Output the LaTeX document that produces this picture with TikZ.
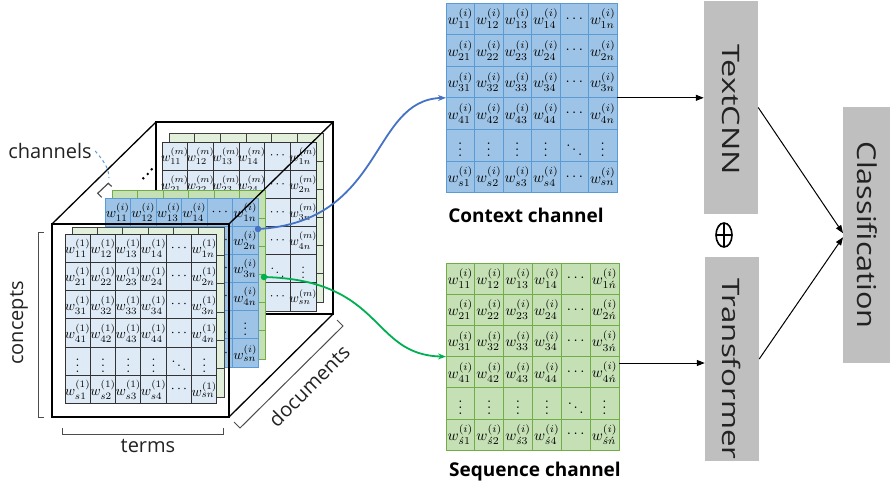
\documentclass[tikz,border=0pt]{standalone}
\usepackage{fontspec}
\usetikzlibrary{arrows.meta,shapes.geometric}
\newfontfamily\labfont{Open Sans}
\definecolor{paleblue}{HTML}{DEEBF7}
\definecolor{palegreen}{HTML}{E2EFDA}
\definecolor{midblue}{HTML}{9DC3E6}
\definecolor{edgeblue}{HTML}{5B9BD5}
\definecolor{lgreen}{HTML}{C5E0B4}
\definecolor{edgegreen}{HTML}{70AD47}
\definecolor{boxgray}{HTML}{BFBFBF}
\definecolor{arrowblue}{HTML}{4472C4}
\definecolor{arrowgreen}{HTML}{00B050}
\definecolor{ink}{HTML}{222222}

% row / column index symbols of a weight matrix
\def\ssym{s}\def\nsym{n}
\newcommand\rowsym[1]{\ifcase#1\or1\or2\or3\or4\or\or\ssym\fi}
\newcommand\colsym[1]{\ifcase#1\or1\or2\or3\or4\or\or\nsym\fi}
\newcommand\wcell[3]{%
  \ifnum#1=5\relax
    \ifnum#2=5\relax$\ddots$\else$\vdots$\fi
  \else
    \ifnum#2=5\relax$\cdots$\else$w_{\rowsym{#1}\colsym{#2}}^{(#3)}$\fi
  \fi}

% 6x6 weight matrix: #1 name, #2,#3 top-left, #4,#5 cell size,
% #6 cell style, #7 label scale, #8 layer index
\newcommand\wmatrix[8]{%
  \foreach \r in {1,...,6}{\foreach \c in {1,...,6}{%
    \draw[#6] ({#2+(\c-1)*#4},{#3+(\r-1)*#5}) rectangle ++(#4,#5);
    \node[celltext] (#1-\r-\c) at ({#2+(\c-0.5)*#4},{#3+(\r-0.5)*#5})
      {\scalebox{#7}{\wcell{\r}{\c}{#8}}};
  }}}

% 6x6 empty grid for the layers stacked behind a matrix
\newcommand\blankgrid[5]{%
  \foreach \r in {0,...,5}{\foreach \c in {0,...,5}{%
    \draw[#5] ({#1+\c*#3},{#2+\r*#4}) rectangle ++(#3,#4);}}}

% rotated, horizontally stretched label of a model box
\newcommand\boxtext[4]{\rotatebox{-90}{\hspace*{#4pt}\labfont\fontsize{#1}{#1}\selectfont\color{ink}\scalebox{#2}[1]{#3}}}

\begin{document}
\begin{tikzpicture}[x=1pt,y=-1pt,
  cubeline/.style={draw=black, line width=1.3pt},
  plaincell/.style={draw=black!80, line width=1pt, fill=paleblue},
  bluecell/.style={draw=edgeblue, line width=0.9pt, fill=midblue},
  greencell/.style={draw=edgegreen, line width=0.9pt, fill=lgreen},
  celltext/.style={inner sep=0pt, font=\fontsize{10}{10}\selectfont, text=black},
  palelayer/.style={draw=black!75, line width=0.9pt, fill=palegreen},
  greenlayer/.style={draw=edgegreen, line width=0.9pt, fill=lgreen},
  graybox/.style={fill=boxgray, draw=none, inner sep=0pt},
  lab/.style={font=\labfont\fontsize{20}{20}\selectfont, text=ink},
  boldlab/.style={font=\labfont\bfseries\fontsize{19}{19}\selectfont, text=black},
  bracketline/.style={draw=black!70, line width=1pt},
  flow/.style={draw=black, line width=1pt, -{Triangle[length=8pt,width=6pt]}},
  dot/.style={circle, inner sep=0pt, minimum size=6.5pt},
]
\useasboundingbox (0,0) rectangle (890,491);

% ---------- cube of documents ----------
\draw[cubeline, fill=white] (156,122) rectangle (333,314);
\blankgrid{169}{133}{25.67}{28.17}{palelayer}
\wmatrix{mm}{162}{142}{25.67}{28.17}{plaincell}{1.3}{m}
\foreach \p in {(143.3,178.3),(147.7,174),(151.7,169.3)}
  \fill[black] \p circle (1.4);
\blankgrid{112}{190}{25.5}{28.17}{greenlayer}
\wmatrix{mi}{105}{198}{25.5}{28.17}{bluecell}{1.4}{i}
\draw[cubeline] (52,224) -- (156,122);
\draw[cubeline] (229,224) -- (333,122);
\draw[cubeline] (229,417) -- (333,314);
\draw[cubeline] (52,224) rectangle (229,417);
\blankgrid{72}{227}{25.33}{28.33}{palelayer}
\wmatrix{m1}{65}{234}{25.33}{28.33}{plaincell}{1.4}{1}

% brackets and axis labels
\draw[bracketline] (44,232) -- (38,232) -- (38,417) -- (44,417);
\node[lab, rotate=90] (concepts) at (19,323) {concepts};
\draw[bracketline] (62,428) -- (62,434) -- (223,434) -- (223,428);
\node[lab] (terms) at (148,446) {terms};
\draw[bracketline] (234,422) -- (240,428) -- (343,326) -- (337,320);
\node[lab, rotate=45] (documents) at (309,386) {documents};
\node[lab] (channels) at (50,151) {channels};
\coordinate (chtip) at (109,178);
\draw[edgeblue, line width=1pt, dashed] (channels.east) .. controls (103,160) and (109,168) .. (chtip);
\draw[bracketline, line width=1.2pt] (101.7,197.3) -- (97.7,193.3) -- (108.3,183.3) -- (111.7,186.5);

% ---------- channel matrices ----------
\wmatrix{ctx}{446}{3}{28.5}{31.6}{bluecell}{1.5}{i}
\node[boldlab] (ctxlab) at (526,215) {Context channel};
\def\ssym{\acute{s}}\def\nsym{\acute{n}}
\wmatrix{seq}{446}{263}{28.83}{31.2}{greencell}{1.5}{i}
\def\ssym{s}\def\nsym{n}
\node[boldlab] (seqlab) at (535,472) {Sequence channel};
\coordinate (ctxin) at (446,97.8);
\coordinate (ctxout) at (617,97.8);
\coordinate (seqin) at (446,356.6);
\coordinate (seqout) at (619,363);

% links from the cube to the channels
\node[dot, fill=arrowblue] (bdot) at (258,229) {};
\node[dot, fill=arrowgreen] (gdot) at (264,277) {};
\draw[arrowblue, line width=1.8pt, -{Stealth[length=8pt,width=6pt]}]
  (bdot.center) .. controls (385,222) and (370,100) .. (ctxin);
\draw[arrowgreen, line width=1.8pt, -{Stealth[length=8pt,width=6pt]}]
  (gdot.center) .. controls (385,280) and (370,355) .. (seqin);

% ---------- models ----------
\node[graybox, minimum width=54pt, minimum height=213pt] (textcnn) at (731,107.5)
  {\boxtext{24}{1.35}{TextCNN}{4}};
\node[graybox, minimum width=54pt, minimum height=204pt] (transformer) at (732,359)
  {\boxtext{24}{1.3}{Transformer}{20}};
\node[graybox, minimum width=48pt, minimum height=256pt, anchor=north west] (cls) at (843,107)
  {\boxtext{26}{1.18}{Classification}{0}};
\node[ellipse, draw=black, line width=1.6pt, minimum width=16pt, minimum height=24pt, inner sep=0pt,
  path picture={\draw[line width=1.6pt]
    (path picture bounding box.north) -- (path picture bounding box.south)
    (path picture bounding box.west) -- (path picture bounding box.east);}] (plus) at (724,235) {};

\draw[flow] (ctxout) -- (ctxout -| textcnn.west);
\draw[flow] (seqout) -- (seqout -| transformer.west);
\draw[flow] (textcnn.east) -- ([yshift=2pt]cls.west);
\draw[flow] (transformer.east) -- ([yshift=-2pt]cls.west);
\end{tikzpicture}
\end{document}
